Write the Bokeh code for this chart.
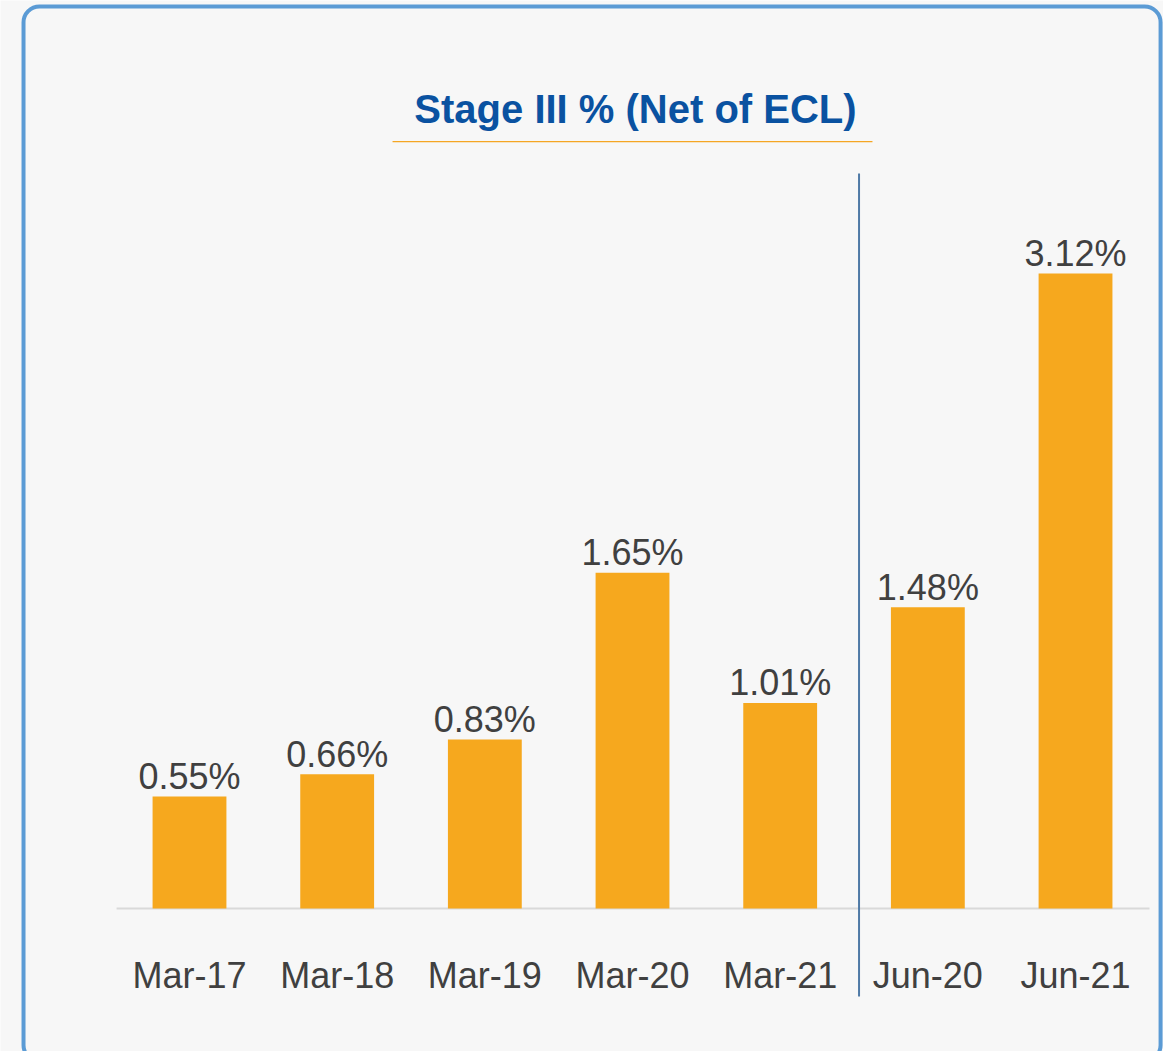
import numpy as np
from bokeh.plotting import figure
from bokeh.models import Range1d, ColumnDataSource
from bokeh.core.properties import value
from bokeh.embed import file_html
from bokeh.resources import INLINE

# ---- data ----
categories = ["Mar-17", "Mar-18", "Mar-19", "Mar-20", "Mar-21", "Jun-20", "Jun-21"]
stage3_pct = [0.55, 0.66, 0.83, 1.65, 1.01, 1.48, 3.12]
value_labels = ["0.55%", "0.66%", "0.83%", "1.65%", "1.01%", "1.48%", "3.12%"]
title_text = "Stage III % (Net of ECL)"

W, H = 1163, 1051
px_x = 147.67   # pixels per category step
px_y = 203.53   # pixels per 1 percentage point
x0_px = 189     # canvas x of first category
base_px = 908   # canvas y of baseline

x_start = -x0_px / px_x
y_end = base_px / px_y
xr = Range1d(x_start, x_start + W / px_x)
yr = Range1d(y_end - H / px_y, y_end)

p = figure(width=W, height=H, x_range=xr, y_range=yr, output_backend="svg",
           toolbar_location=None, x_axis_type=None, y_axis_type=None,
           min_border=0, background_fill_color="#f7f7f7",
           border_fill_color="#f7f7f7")
p.outline_line_color = None
p.grid.visible = False

FONT = "Liberation Sans"

# rounded border
p.quad(left=[-1.124], right=[6.576], top=[4.432], bottom=[-0.75],
       fill_color=None, line_color="#5b9bd5", line_width=4, border_radius=16)

xs = np.arange(len(categories))
src = ColumnDataSource(dict(x=xs, cat=categories, v=stage3_pct, lab=value_labels))

# baseline
p.segment(x0=[xs[0] - 0.494], x1=[xs[-1] + 0.501], y0=[0], y1=[0],
          line_color="#d9d9d9", line_width=2)

# bars
p.vbar(x="x", top="v", width=0.5, bottom=0, source=src,
       fill_color="#f6a81e", line_color=None)

# value labels
p.text(x="x", y="v", text="lab", source=src, text_align="center",
       text_baseline="alphabetic", y_offset=-20, text_font=value(FONT),
       text_font_size="36px", text_color="#404040")

# category labels
p.text(x="x", y=-0.329, text="cat", source=src, text_align="center",
       text_baseline="alphabetic", text_font=value(FONT),
       text_font_size="36px", text_color="#404040")

# separator between Mar and Jun groups
n_mar = sum(1 for c in categories if c.startswith("Mar"))
p.segment(x0=[n_mar - 0.466], x1=[n_mar - 0.466], y0=[3.611], y1=[-0.432],
          line_color="#4f7aa6", line_width=2)

# title + underline
p.text(x=[3.02], y=[3.926], text=[title_text], text_align="center",
       text_baseline="alphabetic", text_font=value(FONT),
       text_font_style="bold", text_font_size="40px", text_color="#0a52a1")
p.segment(x0=[1.375], x1=[4.625], y0=[3.768], y1=[3.768],
          line_color="#f5a623", line_width=1.2)

open("out.html", "w").write(file_html(p, INLINE))
